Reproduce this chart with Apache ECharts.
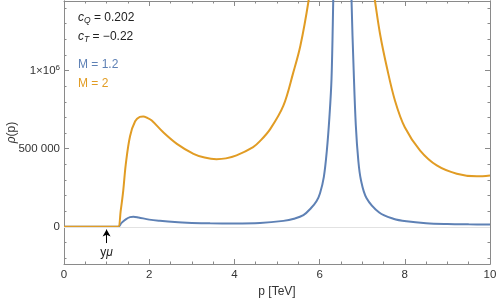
<!DOCTYPE html>
<html><head><meta charset="utf-8">
<script src="https://cdn.jsdelivr.net/npm/echarts@6/dist/echarts.min.js"></script>
<style>html,body{margin:0;padding:0;background:#fff}#c{width:498px;height:301px}</style>
</head><body><div id="c"></div>
<script>
// ---- data ----
const pBlue = [0, 1.0, 1.2, 1.275, 1.35, 1.45, 1.55, 1.63, 1.75, 2.0, 2.25, 2.6, 3.0, 3.43, 4.0, 4.6, 5.15, 5.4, 5.62, 5.8, 5.93, 6.01, 6.1, 6.17, 6.23, 6.28, 6.32, 6.42, 6.53, 6.65, 6.75, 6.8, 6.85, 6.91, 6.97, 7.1, 7.4, 7.73, 8.04, 8.5, 9.0, 9.5, 10];
const rhoBlue = [0, 0, 0, 0, 25000, 48000, 62000, 65000, 60000, 46000, 38000, 30000, 25000, 22000, 21000, 24000, 38000, 52000, 75000, 120000, 165000, 215000, 320000, 488000, 700000, 950000, 1445000, 2800000, 4000000, 2800000, 1445000, 1000000, 650000, 420000, 300000, 185000, 92000, 52000, 35000, 23000, 18000, 16000, 15000];
const pOrange = [0, 1.0, 1.2, 1.275, 1.33, 1.39, 1.45, 1.55, 1.67, 1.78, 1.86, 1.95, 2.06, 2.33, 2.65, 3.04, 3.3, 3.58, 3.8, 4.05, 4.44, 4.6, 4.84, 5.15, 5.38, 5.55, 5.74, 5.95, 6.5, 7.0, 7.3, 7.42, 7.58, 7.77, 8.0, 8.36, 8.75, 9.22, 9.69, 10];
const rhoOrange = [0, 0, 0, 0, 100000, 230000, 400000, 580000, 675000, 703000, 706000, 698000, 680000, 605000, 531000, 467000, 443000, 433000, 438000, 457000, 510000, 548000, 625000, 775000, 985000, 1160000, 1445000, 1850000, 2300000, 2000000, 1445000, 1232000, 1019000, 807000, 637000, 488000, 393000, 340000, 323000, 329000];
const yMajorTicks = [0, 500000, 1000000];
const yMinorTicks = [-200000, -100000, 0, 100000, 200000, 300000, 400000, 500000, 600000, 700000, 800000, 900000, 1000000, 1100000, 1200000, 1300000, 1400000];
const xLabel = 'p [TeV]';
const seriesNames = ['M = 1.2', 'M = 2'];
const cQ = '0.202', cT = '\u22120.22';
const thresholdMark = 1.0;

const FONT = 'Liberation Sans';
const BLUE = '#5E81B5', ORANGE = '#E19C24', FRAME = '#8a8a8a', TXT = '#333';

const zip = (a, b) => a.map((x, i) => [x, b[i]]);
const Y_MIN = -238000, Y_MAX = 1445000;

function yAx(pos, ticks, len, labels) {
  return {
    type: 'value', position: pos, min: Y_MIN, max: Y_MAX, offset: 0,
    axisLine: { show: true, lineStyle: { color: FRAME, width: 1 } },
    axisTick: { show: true, inside: true, length: len, customValues: ticks, lineStyle: { color: FRAME } },
    axisLabel: labels ? {
      show: true, customValues: ticks, color: TXT, fontFamily: FONT, fontSize: 11.5, margin: 4,
      formatter: v => v === 1000000 ? '{a|1\u00d710}{s|6}' : (v === 500000 ? '500 000' : String(v)),
      rich: { a: { fontFamily: FONT, fontSize: 11.5, color: TXT }, s: { fontFamily: FONT, fontSize: 8, color: TXT, verticalAlign: 'bottom', padding: [0, 0, 6, 0] } }
    } : { show: false },
    splitLine: { show: false }
  };
}
function xAx(pos, labels) {
  return {
    type: 'value', position: pos, min: 0, max: 10, interval: 2,
    name: labels ? xLabel : '', nameLocation: 'middle', nameGap: 21,
    nameTextStyle: { fontFamily: FONT, fontSize: 12, color: TXT },
    axisLine: { show: true, onZero: false, lineStyle: { color: FRAME, width: 1 } },
    axisTick: { show: true, inside: true, length: 5, lineStyle: { color: FRAME } },
    minorTick: { show: true, splitNumber: 4, length: 2.5, lineStyle: { color: FRAME } },
    axisLabel: labels ? { show: true, color: TXT, fontFamily: FONT, fontSize: 11.5, margin: 5 } : { show: false },
    splitLine: { show: false }
  };
}

const yAxes = [yAx('left', yMajorTicks, 5, true), yAx('left', yMinorTicks, 2.5, false), yAx('right', yMajorTicks, 5, false), yAx('right', yMinorTicks, 2.5, false)];
yAxes[0].name = '{i|\u03c1}(p)';
yAxes[0].nameLocation = 'middle';
yAxes[0].nameGap = 46;
yAxes[0].nameMoveOverlap = false;
yAxes[0].nameRotate = 90;
yAxes[0].nameTextStyle = { fontFamily: FONT, fontSize: 12, color: TXT, rich: { i: { fontFamily: FONT, fontSize: 12, fontStyle: 'italic', color: TXT } } };

const chart = echarts.init(document.getElementById('c'), null, { renderer: 'canvas' });
chart.setOption({
  animation: false,
  backgroundColor: '#fff',
  grid: { left: 64, right: 8, top: 1, bottom: 37, containLabel: false, outerBoundsMode: 'none' },
  xAxis: [xAx('bottom', true), xAx('top', false)],
  yAxis: yAxes,
  series: [
    {
      name: seriesNames[0], type: 'line', data: zip(pBlue, rhoBlue), showSymbol: false,
      smooth: 0.35, clip: true,
      lineStyle: { color: BLUE, width: 2 }, itemStyle: { color: BLUE },
      markLine: {
        silent: true, symbol: 'none', label: { show: false },
        lineStyle: { color: '#e2e2e2', width: 1, type: 'solid' },
        data: [{ yAxis: 0 }]
      }
    },
    {
      name: seriesNames[1], type: 'line', data: zip(pOrange, rhoOrange), showSymbol: false,
      smooth: 0.35, clip: true,
      lineStyle: { color: ORANGE, width: 2 }, itemStyle: { color: ORANGE },
      markLine: {
        silent: true, symbol: ['none', 'arrow'], symbolSize: [6, 7], label: { show: false },
        lineStyle: { color: '#000', width: 1, type: 'solid' },
        data: [[{ coord: [thresholdMark, -104000] }, { coord: [thresholdMark, -18000] }]]
      },
      markPoint: {
        silent: true, symbol: 'circle', symbolSize: 0,
        label: {
          show: true, position: 'inside', formatter: 'y{m|\u03bc}', color: '#222', fontFamily: FONT, fontSize: 12,
          rich: { m: { fontFamily: FONT, fontSize: 12, fontStyle: 'italic', color: '#222' } }
        },
        data: [{ coord: [thresholdMark, -168000] }]
      }
    }
  ],
  graphic: [
    { type: 'text', left: 78, top: 12, style: { text: '{i|c}{s|Q} = ' + cQ, fill: '#222', font: '12px ' + FONT,
      rich: { i: { fontFamily: FONT, fontSize: 12, fontStyle: 'italic', fill: '#222' }, s: { fontFamily: FONT, fontSize: 8.5, fontStyle: 'italic', fill: '#222', verticalAlign: 'top', padding: [6, 0, 0, 0] } } } },
    { type: 'text', left: 78, top: 31, style: { text: '{i|c}{s|T} = ' + cT, fill: '#222', font: '12px ' + FONT,
      rich: { i: { fontFamily: FONT, fontSize: 12, fontStyle: 'italic', fill: '#222' }, s: { fontFamily: FONT, fontSize: 8.5, fontStyle: 'italic', fill: '#222', verticalAlign: 'top', padding: [6, 0, 0, 0] } } } },
    { type: 'text', left: 78, top: 59, style: { text: seriesNames[0], fill: BLUE, font: '12px ' + FONT } },
    { type: 'text', left: 78, top: 78, style: { text: seriesNames[1], fill: ORANGE, font: '12px ' + FONT } }
  ]
});
</script>
</body></html>
